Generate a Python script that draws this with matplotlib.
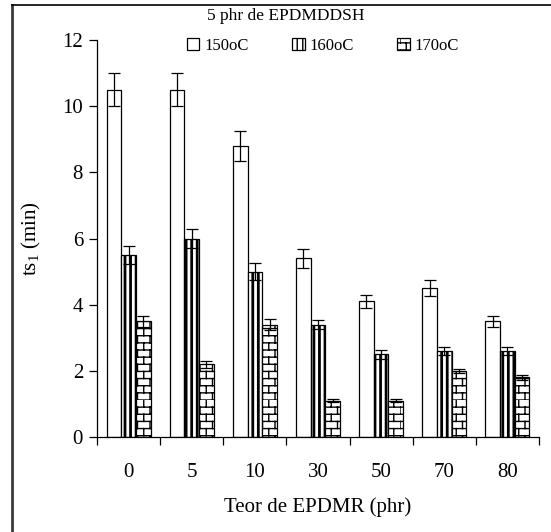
import warnings
import matplotlib
matplotlib.use("Agg")
import matplotlib.pyplot as plt
import matplotlib.hatch as mhatch
from matplotlib.path import Path
import numpy as np
from matplotlib.lines import Line2D

warnings.filterwarnings('ignore')

plt.rcParams['font.family'] = ['Liberation Serif', 'DejaVu Serif']
plt.rcParams['mathtext.fontset'] = 'custom'
plt.rcParams['mathtext.rm'] = 'Liberation Serif'
plt.rcParams['mathtext.it'] = 'Liberation Serif'


class BrickHatch(mhatch.HatchPatternBase):
    rows = 14
    cols = 8

    def __init__(self, hatch, density):
        self.on = 'b' in hatch
        n_lines = self.rows + self.rows * self.cols
        self.num_vertices = 2 * n_lines if self.on else 0

    def set_vertices_and_codes(self, vertices, codes):
        k = 0
        for i in range(self.rows):
            y0 = i / self.rows
            vertices[k] = (0, y0); vertices[k + 1] = (1, y0)
            codes[k] = Path.MOVETO; codes[k + 1] = Path.LINETO
            k += 2
            y1 = (i + 1) / self.rows
            off = 0.5 * (i % 2)
            for j in range(self.cols):
                xx = (j + off) / self.cols
                vertices[k] = (xx, y0); vertices[k + 1] = (xx, y1)
                codes[k] = Path.MOVETO; codes[k + 1] = Path.LINETO
                k += 2


mhatch._hatch_types.append(BrickHatch)

categories = ['0', '5', '10', '30', '50', '70', '80']
series_names = ['150oC', '160oC', '170oC']
v150 = [10.5, 10.5, 8.8, 5.4, 4.1, 4.5, 3.5]
e150 = [0.5, 0.5, 0.45, 0.28, 0.2, 0.25, 0.16]
v160 = [5.5, 6.0, 5.0, 3.4, 2.5, 2.6, 2.6]
e160 = [0.28, 0.28, 0.25, 0.15, 0.14, 0.11, 0.11]
v170 = [3.5, 2.2, 3.4, 1.1, 1.1, 2.0, 1.8]
e170 = [0.16, 0.1, 0.16, 0.04, 0.04, 0.07, 0.08]
yticks = [0, 2, 4, 6, 8, 10, 12]

W, H = 551, 532
fig = plt.figure(figsize=(W / 100, H / 100), dpi=100)
ax = fig.add_axes([97 / W, 1 - 437 / H, (539 - 97) / W, (437 - 40) / H])

x = np.arange(len(categories))
bw = 0.233
ecfg = dict(ecolor='black', elinewidth=0.9, capsize=4.5, capthick=0.9)

with plt.rc_context({'hatch.linewidth': 0.8}):
    b1 = ax.bar(x - bw, v150, bw, color='white', edgecolor='black', linewidth=0.9,
                yerr=e150, error_kw=ecfg, label=series_names[0], zorder=2)
with plt.rc_context({'hatch.linewidth': 2.0, 'hatch.color': 'black'}):
    b2 = ax.bar(x, v160, bw, color='white', edgecolor='black', linewidth=0.9,
                hatch='|||', yerr=e160, error_kw=ecfg, label=series_names[1], zorder=2)
with plt.rc_context({'hatch.linewidth': 1.0, 'hatch.color': 'black'}):
    b3 = ax.bar(x + bw, v170, bw, color='white', edgecolor='black', linewidth=0.9,
                hatch='b', yerr=e170, error_kw=ecfg, label=series_names[2], zorder=2)

ax.set_xlim(-0.5, len(categories) - 0.5)
ax.set_ylim(0, 12)
ax.set_yticks(yticks)
ax.set_yticklabels([str(t) for t in yticks], fontsize=15)
ax.set_xticks(x)
ax.set_xticklabels(categories, fontsize=15)
ax.tick_params(axis='x', which='major', length=0, pad=19)
ax.set_xticks(np.arange(len(categories) + 1) - 0.5, minor=True)
ax.tick_params(axis='x', which='minor', length=6, width=0.9, direction='out')
ax.tick_params(axis='y', length=6, width=0.9, direction='out', pad=4)
for s in ['top', 'right']:
    ax.spines[s].set_visible(False)
for s in ['left', 'bottom']:
    ax.spines[s].set_linewidth(0.9)

ax.set_xlabel('Teor de EPDMR (phr)', fontsize=15, labelpad=11)
ax.set_ylabel('ts$_{\\mathrm{1}}$ (min)', fontsize=15, labelpad=14)

fig.text(286 / W, 1 - 16 / H, '5 phr de EPDMDDSH', fontsize=12.5, ha='center', va='center')
leg = fig.legend(handles=[b1, b2, b3], labels=series_names, loc='center',
                 bbox_to_anchor=(323 / W, 1 - 46 / H), ncol=3, frameon=False,
                 fontsize=12, handlelength=0.75, handleheight=0.75, handletextpad=0.3,
                 columnspacing=2.6)

# outer frame (only top and left visible, as in the cropped reference)
fig.add_artist(Line2D([12 / W, 12 / W], [0, 1 - 5 / H], transform=fig.transFigure,
                      color='#3a3a3a', linewidth=2.0))
fig.add_artist(Line2D([12 / W, 1], [1 - 5 / H, 1 - 5 / H], transform=fig.transFigure,
                      color='black', linewidth=1.2))

fig.savefig('out.png', dpi=100)
